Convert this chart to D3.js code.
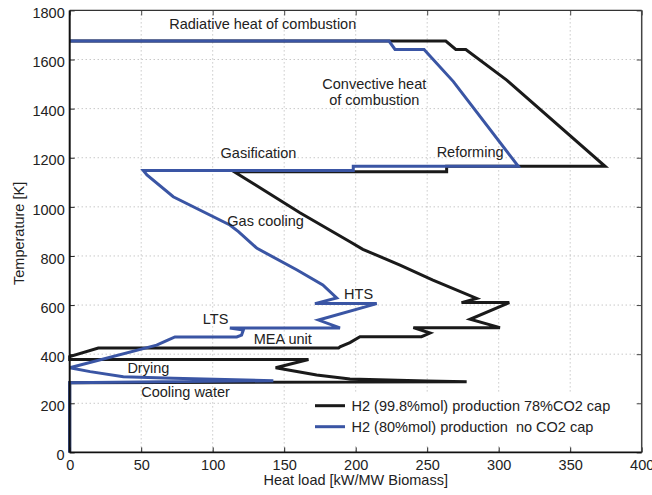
<!DOCTYPE html>
<html>
<head>
<meta charset="utf-8">
<script src="https://cdn.jsdelivr.net/npm/d3@7"></script>
<style>
  html, body { margin: 0; padding: 0; background: #fff; }
  svg { display: block; font-family: "Liberation Sans", Arial, Helvetica, sans-serif; }
  text { white-space: pre; }
</style>
</head>
<body>
<svg id="chart" width="652" height="495"></svg>
<script>
// ---- data (heat load in kW/MW biomass, temperature in K) ----
const seriesNames = [
  "H2 (99.8%mol) production 78%CO2 cap",
  "H2 (80%mol) production  no CO2 cap"
];
const seriesColors = ["#1a1a1a", "#3a55a4"];

// black curve: H2 99.8%mol, 78% CO2 capture
const capLoad = [0, 263, 270, 277, 305.6, 374.4, 263.6, 263.6, 115, 161, 196, 205, 231, 254, 284.6,
  274, 307.4, 280, 300.9, 240.3, 252, 246, 203, 196, 189, 188, 20, 0, 0, 167, 144, 172.7, 196, 249.6, 277.6, 0, 0];
const capTemp = [1675, 1675, 1641, 1641, 1516, 1165, 1165, 1143, 1143, 976, 858, 827, 763, 702, 627,
  610, 610, 542, 508, 508, 486, 471, 471, 447, 430, 425, 425, 390, 378, 378, 345, 315, 299, 291, 288, 284, 0];

// blue curve: H2 80%mol, no CO2 capture
const noCapLoad = [0, 223.3, 227.5, 247.8, 268.3, 313.7, 198.3, 198.3, 51.5, 54, 72.4, 112, 118, 131, 159, 177, 186.7,
  171.5, 214.7, 174, 189, 112, 121.4, 120.2, 116.8, 73.6, 67.8, 60.8, 0, 14.3, 37.5, 72.4, 142.4, 0, 0];
const noCapTemp = [1675, 1675, 1641, 1641, 1510, 1165, 1165, 1148, 1148, 1130, 1041, 926, 899, 831, 743, 682, 629,
  606, 606, 539, 507, 507, 498, 478, 470, 470, 455, 437, 345, 329, 308, 302, 292, 284, 0];

const xTicks = [0, 50, 100, 150, 200, 250, 300, 350, 400];
const yTicks = [0, 200, 400, 600, 800, 1000, 1200, 1400, 1600, 1800];

const annotations = [
  { text: "Radiative heat of combustion", x: 135, y: 1725 },
  { text: "Convective heat", x: 213, y: 1480 },
  { text: "of combustion", x: 213, y: 1413 },
  { text: "Gasification", x: 132, y: 1200 },
  { text: "Reforming", x: 280, y: 1202 },
  { text: "Gas cooling", x: 137, y: 922 },
  { text: "HTS", x: 202, y: 625 },
  { text: "LTS", x: 102, y: 523 },
  { text: "MEA unit", x: 149, y: 441 },
  { text: "Drying", x: 55, y: 325 },
  { text: "Cooling water", x: 81, y: 227 }
];

// ---- layout ----
const W = 652, H = 495;
const pL = 69.7, pR = 641.7, pT = 10.4, pB = 452.4;
const FS = 14.5;
const textColor = "#222";

const svg = d3.select("#chart");
svg.append("rect").attr("width", W).attr("height", H).attr("fill", "#fff");

const x = d3.scaleLinear().domain([0, 400]).range([pL, pR]);
const y = d3.scaleLinear().domain([0, 1800]).range([pB, pT]);

// grid
const grid = svg.append("g");
grid.selectAll("line.gx").data(xTicks.slice(1, -1)).join("line")
  .attr("x1", d => x(d)).attr("x2", d => x(d)).attr("y1", pT).attr("y2", pB)
  .attr("stroke", "#9a9a9a").attr("stroke-width", 0.8).attr("stroke-dasharray", "1,3");
grid.selectAll("line.gy").data(yTicks.slice(1, -1)).join("line")
  .attr("y1", d => y(d)).attr("y2", d => y(d)).attr("x1", pL).attr("x2", pR)
  .attr("stroke", "#9a9a9a").attr("stroke-width", 0.8).attr("stroke-dasharray", "1,3");

// legend background (hides grid)
const legendG = svg.append("g");
legendG.append("rect").attr("x", 308).attr("y", 394).attr("width", 330).attr("height", 52).attr("fill", "#fff");

// lines
const line = d3.line().x(d => x(d[0])).y(d => y(d[1]));
const capPts = capLoad.map((v, i) => [v, capTemp[i]]);
const noCapPts = noCapLoad.map((v, i) => [v, noCapTemp[i]]);
svg.append("path").datum(capPts).attr("d", line)
  .attr("fill", "none").attr("stroke", seriesColors[0]).attr("stroke-width", 3)
  .attr("stroke-linejoin", "miter").attr("stroke-miterlimit", 4);
svg.append("path").datum(noCapPts).attr("d", line)
  .attr("fill", "none").attr("stroke", seriesColors[1]).attr("stroke-width", 3)
  .attr("stroke-linejoin", "miter").attr("stroke-miterlimit", 4);

// axes
function styleAxis(g, color) {
  g.select(".domain").remove();
  g.selectAll(".tick line").attr("stroke", color).attr("stroke-width", 1);
  g.selectAll("text").attr("font-size", FS).attr("fill", textColor).attr("font-family", null);
}
const axB = svg.append("g").attr("transform", `translate(0,${pB})`)
  .call(d3.axisBottom(x).tickValues(xTicks).tickSizeInner(-5).tickSizeOuter(0).tickPadding(7).tickFormat(d3.format("d")));
styleAxis(axB, "#222");
const axL = svg.append("g").attr("transform", `translate(${pL},0)`)
  .call(d3.axisLeft(y).tickValues(yTicks).tickSizeInner(-5).tickSizeOuter(0).tickPadding(5).tickFormat(d3.format("d")));
styleAxis(axL, "#222");
axL.selectAll("text").attr("dy", "0.5em");
const axT = svg.append("g").attr("transform", `translate(0,${pT})`)
  .call(d3.axisTop(x).tickValues(xTicks).tickSizeInner(-5).tickSizeOuter(0).tickFormat(""));
styleAxis(axT, "#444");
const axR = svg.append("g").attr("transform", `translate(${pR},0)`)
  .call(d3.axisRight(y).tickValues(yTicks).tickSizeInner(-5).tickSizeOuter(0).tickFormat(""));
styleAxis(axR, "#444");

// frame
svg.append("line").attr("x1", pL).attr("x2", pR).attr("y1", pT).attr("y2", pT).attr("stroke", "#333").attr("stroke-width", 1.2);
svg.append("line").attr("x1", pR).attr("x2", pR).attr("y1", pT).attr("y2", pB).attr("stroke", "#444").attr("stroke-width", 1.5);
svg.append("line").attr("x1", pL).attr("x2", pR).attr("y1", pB).attr("y2", pB).attr("stroke", "#111").attr("stroke-width", 1.6);
svg.append("line").attr("x1", pL).attr("x2", pL).attr("y1", pT).attr("y2", pB).attr("stroke", "#111").attr("stroke-width", 2);

// axis titles
svg.append("text").attr("x", (pL + pR) / 2).attr("y", 485).attr("text-anchor", "middle")
  .attr("font-size", FS).attr("fill", textColor).text("Heat load [kW/MW Biomass]");
svg.append("text").attr("transform", `translate(23.5,${(pT + pB) / 2 + 2}) rotate(-90)`).attr("text-anchor", "middle")
  .attr("font-size", FS).attr("fill", textColor).text("Temperature [K]");

// annotations
svg.append("g").selectAll("text").data(annotations).join("text")
  .attr("x", d => x(d.x)).attr("y", d => y(d.y)).attr("text-anchor", "middle")
  .attr("font-size", FS).attr("fill", textColor).text(d => d.text);

// legend
const legY = [405.7, 426.7];
seriesNames.forEach((name, i) => {
  legendG.append("line").attr("x1", 315).attr("x2", 345).attr("y1", legY[i]).attr("y2", legY[i])
    .attr("stroke", seriesColors[i]).attr("stroke-width", 3);
  legendG.append("text").attr("x", 351.5).attr("y", legY[i] + 5.2)
    .attr("font-size", FS).attr("fill", textColor).text(name);
});
</script>
</body>
</html>
